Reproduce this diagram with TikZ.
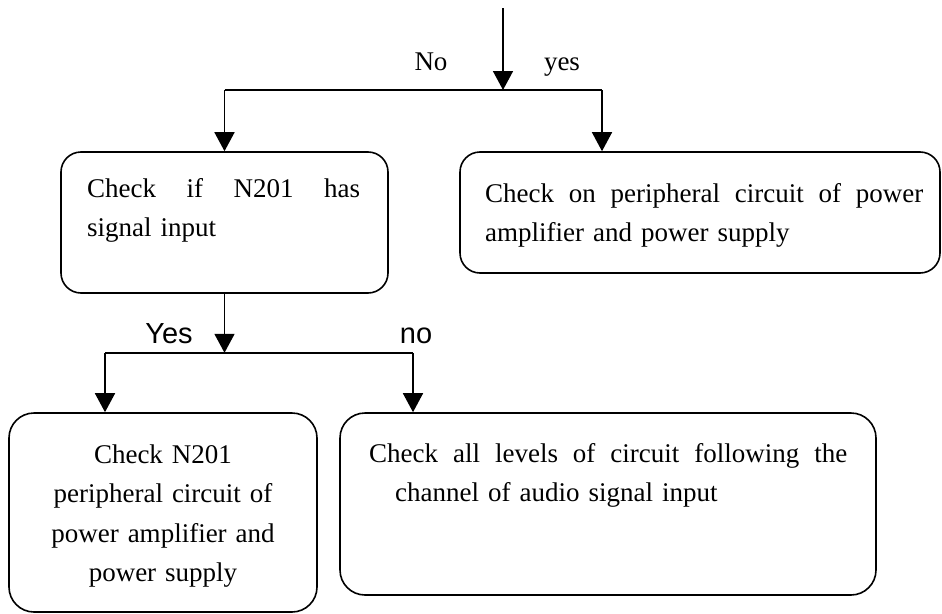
\documentclass[tikz,border=0pt]{standalone}
\usepackage{fontspec}
\setmainfont{Liberation Serif}
\newfontfamily\labelsans{Liberation Sans}
\usetikzlibrary{arrows.meta}
\begin{document}
\begin{tikzpicture}[x=1pt,y=-1pt,
  box/.style={draw, line width=1.6pt, inner sep=0pt},
  conn/.style={line width=1.6pt},
  arr/.style={conn, -{Triangle[width=20pt,length=19pt]}},
  txt/.style={inner sep=0pt, font=\fontsize{27}{39.5}\selectfont},
  lab/.style={inner sep=0pt, anchor=base, font=\fontsize{27}{32}\selectfont},
  slab/.style={inner sep=0pt, anchor=base, font=\labelsans\fontsize{29}{34}\selectfont}]
\useasboundingbox (0,0) rectangle (942,613);
% boxes
\node[box, rounded corners=20pt, minimum width=327pt, minimum height=141pt] (A) at (224.5,222.5) {};
\node[box, rounded corners=20pt, minimum width=480pt, minimum height=121pt] (B) at (700,212.5) {};
\node[box, rounded corners=25pt, minimum width=308pt, minimum height=199pt] (C) at (163,512.5) {};
\node[box, rounded corners=25pt, minimum width=536pt, minimum height=182pt] (D) at (608,504) {};
% texts
\node[txt, anchor=base west, text width=273pt, align=left] (tA) at (87,197)
  {Check\hfill if\hfill N201\hfill has\\signal input};
\node[txt, anchor=base west, text width=438pt, align=left] (tB) at (485,202)
  {Check\hfill on\hfill peripheral\hfill circuit\hfill of\hfill power\\amplifier and power supply};
\node[txt, anchor=base, text width=300pt, align=center] (tC) at (163,463)
  {Check N201\\peripheral circuit of\\power amplifier and\\power supply};
\node[txt, anchor=base west, text width=478pt, align=left] (tD) at (369,462)
  {Check\hfill all\hfill levels\hfill of\hfill circuit\hfill following\hfill the\\\hspace*{26pt}channel of audio signal input};
% labels
\node[lab] (no1) at (431,70) {No};
\node[lab] (yes1) at (562,70) {yes};
\node[slab] (yes2) at (169,343) {Yes};
\node[slab] (no2) at (416,343) {no};
% connectors
\coordinate (start) at (503,8);
\coordinate (j1) at (503,90);
\coordinate (bx) at (602,0);
\draw[arr] (start) -- (j1);
\draw[conn] (j1 -| A.north) -- (j1 -| bx);
\draw[arr] (j1 -| A.north) -- (A.north);
\draw[arr] (j1 -| bx) -- (bx |- B.north);
\path (A.south) ++(0,59) coordinate (j2);
\coordinate (cx) at (105,0);
\coordinate (dx) at (413,0);
\draw[arr] (A.south) -- (j2);
\draw[conn] (j2 -| cx) -- (j2 -| dx);
\draw[arr] (j2 -| cx) -- (cx |- C.north);
\draw[arr] (j2 -| dx) -- (dx |- D.north);
\end{tikzpicture}
\end{document}
